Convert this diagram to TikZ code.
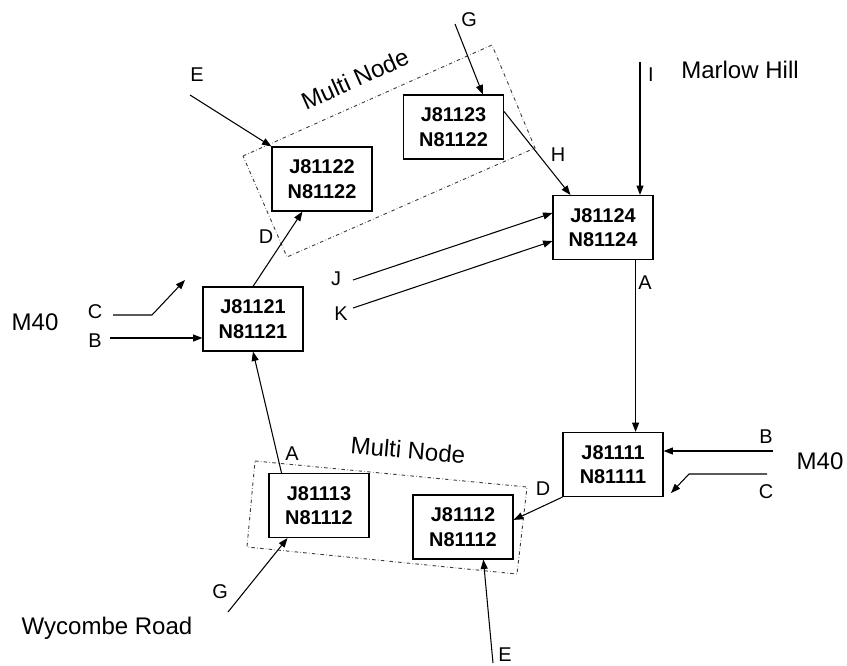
\documentclass[tikz,border=0pt]{standalone}
\usepackage{fontspec}
\setmainfont{Liberation Sans}
\usetikzlibrary{arrows.meta, positioning}

\begin{document}
\begin{tikzpicture}[x=0.03cm, y=-0.03cm, >={Triangle[length=8pt,width=6pt]},
  junction/.style={draw, line width=1pt, minimum width=3cm, minimum height=1.92cm,
    align=center, font=\fontsize{17}{21}\selectfont\bfseries},
  link/.style={->, line width=0.9pt},
  arm/.style={font=\fontsize{17}{20}\selectfont},
  place/.style={font=\fontsize{20.5}{24}\selectfont},
  multibox/.style={dash dot, line width=0.8pt, black!75}]
  \useasboundingbox (0,0) rectangle (847,665);

  % multi node groups
  \draw[multibox] (243,156) -- (492,45) -- (535,148) -- (287,257) -- cycle;
  \draw[multibox] (255,461) -- (527,487) -- (517,574) -- (247,547) -- cycle;
  \node[place, rotate=24] (multitop) at (355,79) {Multi Node};
  \node[place, rotate=-5] (multibot) at (408,450) {Multi Node};

  % junctions
  \node[junction] (j81122) at (322,179) {J81122\\N81122};
  \node[junction] (j81123) at (453.5,127) {J81123\\N81122};
  \node[junction] (j81124) at (603,227.5) {J81124\\N81124};
  \node[junction] (j81121) at (253,319) {J81121\\N81121};
  \node[junction] (j81111) at (613,464.5) {J81111\\N81111};
  \node[junction] (j81113) at (319,505.5) {J81113\\N81112};
  \node[junction] (j81112) at (463,527) {J81112\\N81112};

  % free ends of the arms
  \coordinate (eTop) at (190,95);
  \coordinate (gTop) at (455,24);
  \coordinate (iTop) at (640,62);
  \coordinate (jIn) at (353,280);
  \coordinate (kIn) at (353,308);
  \coordinate (bRight) at (773,451);
  \coordinate (cRight) at (767,474);
  \coordinate (cRightBend) at (689,474);
  \coordinate (cRightTip) at (671,493);
  \coordinate (eBot) at (493,663);
  \coordinate (gBot) at (228,612);
  \coordinate (bLeft) at (110,338);
  \coordinate (cLeft) at (113,315);
  \coordinate (cLeftBend) at (152,315);
  \coordinate (cLeftTip) at (185,280);

  % arms
  \draw[link] (eTop) -- (j81122.north west);
  \draw[link] (gTop) -- (j81123.48);
  \draw[link] (j81123.17) -- (j81124.135);
  \draw[link] (iTop) -- (iTop |- j81124.north);
  \draw[link] (jIn) -- (j81124.164);
  \draw[link] (kIn) -- (j81124.195);
  \draw[link] (j81124.315) -- (j81124.315 |- j81111.north);
  \draw[link] (bRight) -- (bRight -| j81111.east);
  \draw[link] (cRight) -- (cRightBend) -- (cRightTip);
  \draw[link] (j81111.south west) -- (j81112.8);
  \draw[link] (eBot) -- (j81112.302);
  \draw[link] (gBot) -- (j81113.226);
  \draw[link] (j81113.139) -- (j81121.south);
  \draw[link] (j81121.north) -- (j81122.239);
  \draw[link] (bLeft) -- (bLeft -| j81121.west);
  \draw[link] (cLeft) -- (cLeftBend) -- (cLeftTip);

  % labels
  \node[arm] (lblEtop) at (197,75) {E};
  \node[arm] (lblGtop) at (469,20) {G};
  \node[arm] (lblH) at (558,155) {H};
  \node[arm] (lblI) at (651,75) {I};
  \node[arm] (lblJ) at (336,279) {J};
  \node[arm] (lblK) at (341,314) {K};
  \node[arm] (lblAright) at (645,283) {A};
  \node[arm] (lblBright) at (766,437) {B};
  \node[arm] (lblCright) at (766,492) {C};
  \node[arm] (lblDbot) at (543,489) {D};
  \node[arm] (lblEbot) at (505,655) {E};
  \node[arm] (lblGbot) at (220,592) {G};
  \node[arm] (lblAleft) at (292,454) {A};
  \node[arm] (lblDleft) at (266,237) {D};
  \node[arm] (lblBleft) at (95,341) {B};
  \node[arm] (lblCleft) at (95,312) {C};
  \node[place] (marlow) at (740,70) {Marlow Hill};
  \node[place] (m40right) at (820,461) {M40};
  \node[place] (m40left) at (35,322) {M40};
  \node[place] (wycombe) at (107,628) {Wycombe Road};
\end{tikzpicture}
\end{document}
